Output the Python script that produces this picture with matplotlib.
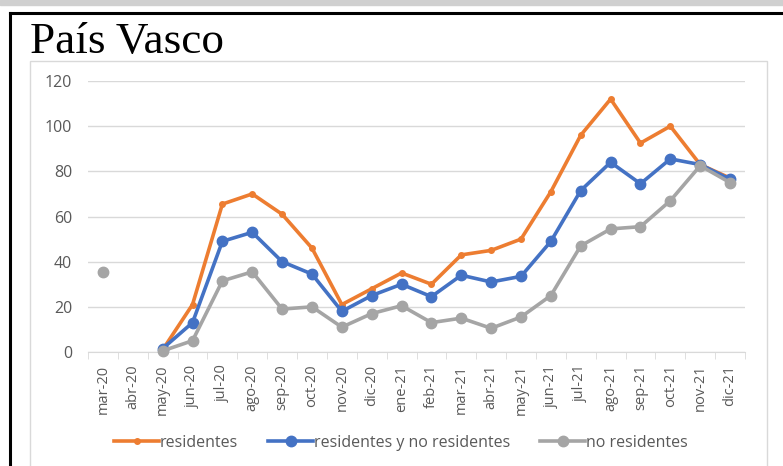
import numpy as np
import matplotlib.pyplot as plt
from matplotlib.patches import Rectangle
from matplotlib.lines import Line2D

meses = ["mar-20", "abr-20", "may-20", "jun-20", "jul-20", "ago-20", "sep-20", "oct-20",
         "nov-20", "dic-20", "ene-21", "feb-21", "mar-21", "abr-21", "may-21", "jun-21",
         "jul-21", "ago-21", "sep-21", "oct-21", "nov-21", "dic-21"]

residentes = [np.nan, np.nan, 1, 21, 65.5, 70, 61, 46, 21, 28, 35, 30, 43, 45, 50,
              71, 96, 112, 92.5, 100, 83, 77]
total = [np.nan, np.nan, 1.5, 13, 49, 53, 40, 34.5, 18, 25, 30, 24.5, 34, 31, 33.5,
         49, 71.5, 84, 74.5, 85.5, 83, 76.5]
no_residentes = [35.5, np.nan, 0.5, 5, 31.5, 35.5, 19, 20, 11, 17, 20.5, 13, 15, 10.5,
                 15.5, 25, 47, 54.5, 55.5, 67, 82.5, 75]

naranja = "#ed7d31"
azul = "#4472c4"
gris = "#a5a5a5"
texto = "#595959"
linea = "#d9d9d9"

fig = plt.figure(figsize=(7.83, 4.66), dpi=100)

# marco exterior y banda gris superior
fig.patches.append(Rectangle((0, 1 - 5 / 466), 1, 5 / 466, transform=fig.transFigure,
                             color="#d0d0d0", zorder=0))
fig.lines.append(Line2D([10 / 783, 10 / 783], [0, 1 - 12.5 / 466], transform=fig.transFigure,
                        color="black", lw=2.2))
fig.lines.append(Line2D([10 / 783, 1], [1 - 12.5 / 466, 1 - 12.5 / 466], transform=fig.transFigure,
                        color="black", lw=2.2))
fig.patches.append(Rectangle((30 / 783, -0.05), (767 - 30) / 783, 1.05 - 61 / 466,
                             transform=fig.transFigure, fill=False, ec=linea, lw=1))

fig.text(30 / 783, 1 - 53 / 466, "País Vasco", family="Liberation Serif", fontsize=32.5,
         color="black", va="baseline", ha="left")

ax = fig.add_axes([88 / 783, 1 - 352 / 466, (745 - 88) / 783, (352 - 81) / 466])
x = np.arange(len(meses))

ax.plot(x, residentes, color=naranja, lw=2.6, marker="o", ms=4, label="residentes",
        clip_on=False, zorder=3)
ax.plot(x, total, color=azul, lw=2.6, marker="o", ms=7.5, label="residentes y no residentes",
        clip_on=False, zorder=4)
ax.plot(x, no_residentes, color=gris, lw=2.6, marker="o", ms=7.5, label="no residentes",
        clip_on=False, zorder=5)

ax.set_xlim(-0.5, len(meses) - 0.5)
ax.set_ylim(0, 120)
ax.set_yticks(range(0, 121, 20))
ax.yaxis.grid(True, color=linea, lw=1)
ax.set_axisbelow(True)
for s in ["top", "right", "left"]:
    ax.spines[s].set_visible(False)
ax.spines["bottom"].set_color(linea)
ax.tick_params(axis="y", length=0, pad=11.5, labelsize=11.5, labelcolor=texto)
ax.set_xticks(x)
ax.set_xticklabels(meses, rotation=90, fontsize=10.5, color=texto)
ax.set_xticks(np.arange(-0.5, len(meses), 1), minor=True)
ax.tick_params(axis="x", which="major", length=0, pad=9)
ax.tick_params(axis="x", which="minor", length=5, color=linea)
for lab in ax.get_xticklabels() + ax.get_yticklabels():
    lab.set_family("Open Sans")

leg = fig.legend(loc="center", bbox_to_anchor=(401 / 783, 1 - 443 / 466), ncol=3, frameon=False,
                 handlelength=2.8, handletextpad=0.05, columnspacing=1.9,
                 prop={"family": "Open Sans", "size": 11.5})
for t in leg.get_texts():
    t.set_color(texto)

fig.savefig("out.png", dpi=100)
